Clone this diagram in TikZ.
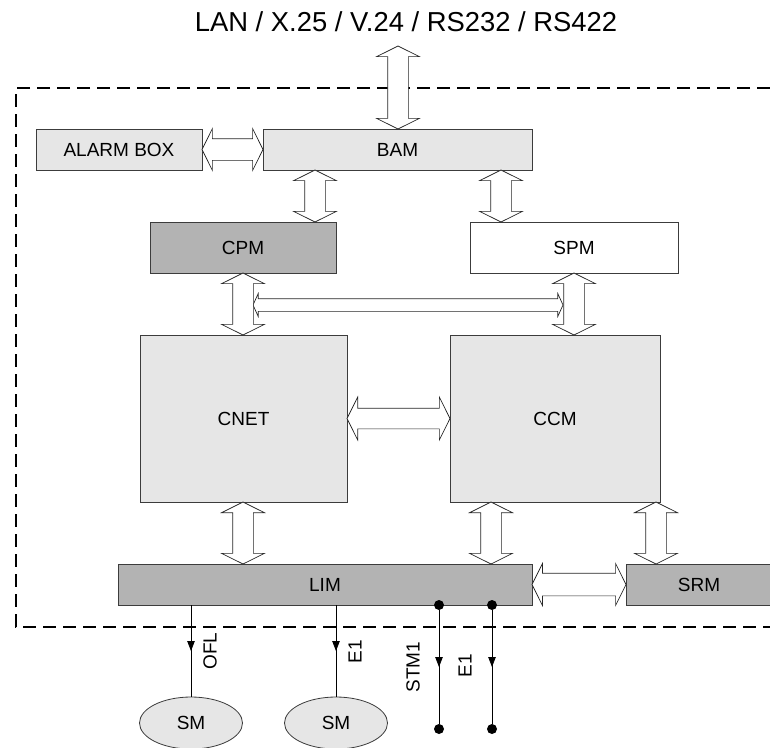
\documentclass[tikz,border=0pt]{standalone}
\usepackage{fontspec}
\setmainfont{Liberation Sans}
\usetikzlibrary{shapes.geometric, shapes.arrows, arrows.meta, positioning, calc, decorations.markings}
\definecolor{boxlight}{RGB}{230,230,230}
\definecolor{boxdark}{RGB}{179,179,179}
\definecolor{edgegray}{RGB}{60,60,60}

\begin{document}
\begin{tikzpicture}[
        x=1pt, y=-1pt,
        box/.style={rectangle, draw=edgegray, fill=#1, line width=0.8pt, inner sep=0pt, font=\fontsize{19}{22}\selectfont},
        fat/.style={double arrow, draw=black!85, fill=white, line width=0.7pt, inner sep=0pt, inner ysep=10pt, double arrow head extend=11pt, double arrow tip angle=127},
        sm/.style={ellipse, draw=edgegray, fill=boxlight, line width=0.8pt, minimum width=103pt, minimum height=52pt, inner sep=0pt, font=\fontsize{19}{22}\selectfont},
        dot/.style={circle, fill=black, inner sep=0pt, minimum size=10pt},
        flow/.style={line width=0.8pt, postaction={decorate}, decoration={markings, mark=at position 0.5 with {\arrow{Triangle[length=10pt, width=7.5pt]}}}},
        lbl/.style={rotate=90, font=\fontsize{19}{22}\selectfont},
        frame/.style={line width=1.1pt, dash pattern=on 13pt off 7pt}
    ]
        \useasboundingbox (0,0) rectangle (770,747);

        % System border (open to the right)
        \draw[frame] (770,88) -- (16,88) -- (16,627) -- (770,627);

        % Modules
        \node[box=boxlight, minimum width=166pt, minimum height=41pt] (alarm) at (119,149.5) {ALARM BOX};
        \node[box=boxlight, minimum width=269pt, minimum height=41pt] (bam) at (397.5,149.5) {BAM};
        \node[box=boxdark, minimum width=186pt, minimum height=51pt] (cpm) at (243,247.5) {CPM};
        \node[box=white, minimum width=208pt, minimum height=51pt] (spm) at (574,247.5) {SPM};
        \node[box=boxlight, minimum width=207pt, minimum height=167pt] (cnet) at (243.5,418.5) {CNET};
        \node[box=boxlight, minimum width=210pt, minimum height=167pt] (ccm) at (555,418.5) {CCM};
        \node[box=boxdark, minimum width=414pt, minimum height=41pt] (lim) at (325,584.5) {LIM};
        \node[box=boxdark, minimum width=146pt, minimum height=41pt] (srm) at (699,584.5) {SRM};

        % External interfaces
        \node[font=\fontsize{27.4}{32}\selectfont, anchor=base] (bus) at (406,31.7) {LAN / X.25 / V.24 / RS232 / RS422};
        \node[fat, rotate=90, minimum height=83pt] (lanbam) at (398,87.5) {};

        % Horizontal links
        \node[fat, inner ysep=10.5pt, double arrow head extend=10pt, minimum height=61pt] (alarmbam) at ($(alarm.east)!.5!(bam.west)$) {};
        \node[fat, inner ysep=6pt, double arrow head extend=5pt, double arrow tip angle=131, minimum height=310pt] (cpmspm) at (408,305) {};
        \node[fat, minimum height=103pt] (cnetccm) at ($(cnet.east)!.5!(ccm.west)$) {};
        \node[fat, inner ysep=11pt, double arrow head extend=9.5pt, minimum height=94pt] (limsrm) at ($(lim.east)!.5!(srm.west)$) {};

        % Vertical links
        \node[fat, rotate=90, minimum height=52pt] (bamcpm) at (315,196) {};
        \node[fat, rotate=90, minimum height=52pt] (bamspm) at (501,196) {};
        \node[fat, rotate=90, minimum height=62pt] (cpmcnet) at (243,304) {};
        \node[fat, rotate=90, minimum height=62pt] (spmccm) at (574,304) {};
        \node[fat, rotate=90, minimum height=62pt] (cnetlim) at (243,533) {};
        \node[fat, rotate=90, minimum height=62pt] (ccmlim) at (491,533) {};
        \node[fat, rotate=90, minimum height=62pt] (ccmsrm) at (656,533) {};

        % Subscriber modules and trunks
        \node[sm] (sm1) at (191,723) {SM};
        \node[sm] (sm2) at (336,723) {SM};
        \node[dot] (stmtop) at (439,605) {};
        \node[dot] (stmend) at (439,729) {};
        \node[dot] (etop) at (492,605) {};
        \node[dot] (eend) at (492,729) {};

        \draw[flow] (sm1.north |- lim.south) -- (sm1.north);
        \draw[flow] (sm2.north |- lim.south) -- (sm2.north);
        \draw[flow] (stmtop) -- (stmend);
        \draw[flow] (etop) -- (eend);

        % Line labels
        \node[lbl] at (210,651) {OFL};
        \node[lbl] at (355,652) {E1};
        \node[lbl] at (413,667) {STM1};
        \node[lbl] at (465,666) {E1};
    \end{tikzpicture}
\end{document}
